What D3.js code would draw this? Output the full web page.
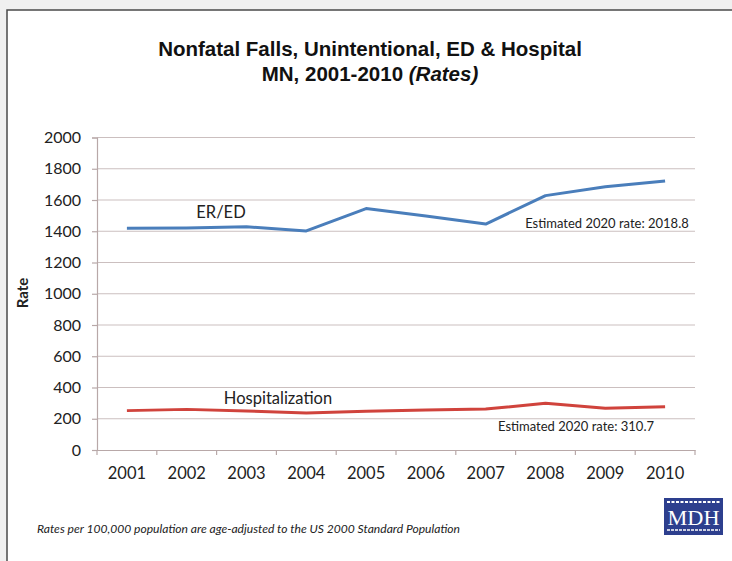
<!DOCTYPE html>
<html>
<head>
<meta charset="utf-8">
<script src="https://cdn.jsdelivr.net/npm/d3@7"></script>
<style>
html,body{margin:0;padding:0;background:#f2f2f2;}
svg{display:block;}
</style>
</head>
<body>
<svg id="chart" width="732" height="561"></svg>
<script>
const years = ["2001","2002","2003","2004","2005","2006","2007","2008","2009","2010"];
const erValues = [1419, 1421, 1429, 1402, 1545, 1498, 1446, 1628, 1685, 1722];
const hospValues = [252, 260, 250, 237, 248, 256, 262, 299, 267, 277];
const yTicks = [0, 200, 400, 600, 800, 1000, 1200, 1400, 1600, 1800, 2000];
const titleLines = ["Nonfatal Falls, Unintentional, ED & Hospital", "MN, 2001-2010 "];
const titleItalic = "(Rates)";
const seriesNames = ["ER/ED", "Hospitalization"];
const estimateNotes = ["Estimated 2020 rate: 2018.8", "Estimated 2020 rate: 310.7"];
const footnote = "Rates per 100,000 population are age-adjusted to the US 2000 Standard Population";

const svg = d3.select("#chart");
const labelFont = "Lato, 'Open Sans', sans-serif";

// frame
svg.append("rect").attr("x", 0).attr("y", 0).attr("width", 732).attr("height", 561).attr("fill", "#f0f0f0");
svg.append("rect").attr("x", 7).attr("y", 10).attr("width", 820).attr("height", 620)
  .attr("fill", "#ffffff").attr("stroke", "#4a4a4a").attr("stroke-width", 1.5);

const pLeft = 97, pRight = 695, pTop = 137.5, pBottom = 450;
const x = d3.scaleBand().domain(years).range([pLeft, pRight]);
const y = d3.scaleLinear().domain([0, 2000]).range([pBottom, pTop]);

// gridlines
svg.append("g").selectAll("line").data(yTicks.filter(d => d > 0)).join("line")
  .attr("x1", pLeft).attr("x2", pRight)
  .attr("y1", d => y(d)).attr("y2", d => y(d))
  .attr("stroke", "#cbbfbf").attr("stroke-width", 1.2);

// y axis
const yAxis = svg.append("g").attr("transform", `translate(${pLeft},0)`)
  .call(d3.axisLeft(y).tickValues(yTicks).tickFormat(d3.format("d")).tickSize(5).tickPadding(11));
yAxis.select(".domain").attr("stroke", "#b8a8a8").attr("stroke-width", 1.2);
yAxis.selectAll(".tick line").attr("stroke", "#b8a8a8").attr("stroke-width", 1.2);
yAxis.selectAll("text").attr("font-family", labelFont).attr("font-size", 16).attr("fill", "#222");

// x axis
const xAxis = svg.append("g").attr("transform", `translate(0,${pBottom})`)
  .call(d3.axisBottom(x).tickSize(0).tickPadding(17));
xAxis.select(".domain").attr("stroke", "#b8a8a8").attr("stroke-width", 1.2);
xAxis.selectAll("text").attr("font-family", labelFont).attr("font-size", 16.5).attr("fill", "#222");
// boundary ticks
const bounds = years.map(d => x(d)).concat([x(years[years.length - 1]) + x.bandwidth()]);
svg.append("g").selectAll("line").data(bounds).join("line")
  .attr("x1", d => d).attr("x2", d => d).attr("y1", pBottom).attr("y2", pBottom + 5)
  .attr("stroke", "#b8a8a8").attr("stroke-width", 1.2);

// lines
const line = d3.line().x((d, i) => x(years[i]) + x.bandwidth() / 2).y(d => y(d));
svg.append("path").datum(erValues).attr("d", line).attr("fill", "none")
  .attr("stroke", "#4a7ebb").attr("stroke-width", 3).attr("stroke-linejoin", "round");
svg.append("path").datum(hospValues).attr("d", line).attr("fill", "none")
  .attr("stroke", "#d0433c").attr("stroke-width", 3).attr("stroke-linejoin", "round");

// series labels
svg.append("text").attr("x", 221).attr("y", 218).attr("text-anchor", "middle")
  .attr("font-family", labelFont).attr("font-size", 16.5).attr("fill", "#222").text(seriesNames[0]);
svg.append("text").attr("x", 278).attr("y", 404).attr("text-anchor", "middle")
  .attr("font-family", labelFont).attr("font-size", 16.5).attr("fill", "#222").text(seriesNames[1]);
svg.append("text").attr("x", 607).attr("y", 228).attr("text-anchor", "middle")
  .attr("font-family", labelFont).attr("font-size", 13).attr("fill", "#222").text(estimateNotes[0]);
svg.append("text").attr("x", 576).attr("y", 431).attr("text-anchor", "middle")
  .attr("font-family", labelFont).attr("font-size", 13).attr("fill", "#222").text(estimateNotes[1]);

// title
svg.append("text").attr("x", 370).attr("y", 56).attr("text-anchor", "middle")
  .attr("font-family", "'Liberation Sans', Arial, sans-serif").attr("font-weight", "bold")
  .attr("font-size", 20.5).attr("fill", "#111").text(titleLines[0]);
const t2 = svg.append("text").attr("x", 370).attr("y", 81).attr("text-anchor", "middle")
  .attr("font-family", "'Liberation Sans', Arial, sans-serif").attr("font-weight", "bold")
  .attr("font-size", 20.5).attr("fill", "#111");
t2.append("tspan").text(titleLines[1]);
t2.append("tspan").attr("font-style", "italic").text(titleItalic);

// y axis title
svg.append("text").attr("transform", "translate(28,293) rotate(-90)").attr("text-anchor", "middle")
  .attr("font-family", labelFont).attr("font-weight", "bold").attr("font-size", 15).attr("fill", "#222").text("Rate");

// footnote
svg.append("text").attr("x", 37).attr("y", 533)
  .attr("font-family", labelFont).attr("font-style", "italic").attr("font-size", 11.5).attr("fill", "#222")
  .attr("textLength", 423).attr("lengthAdjust", "spacingAndGlyphs").text(footnote);

// MDH logo
const logo = svg.append("g").attr("transform", "translate(664,498)");
logo.append("rect").attr("width", 59).attr("height", 37).attr("fill", "#2d3f8e");
logo.append("line").attr("x1", 3).attr("x2", 56).attr("y1", 4).attr("y2", 4)
  .attr("stroke", "#ffffff").attr("stroke-width", 2).attr("stroke-dasharray", "3,1.5");
logo.append("line").attr("x1", 3).attr("x2", 56).attr("y1", 32).attr("y2", 32)
  .attr("stroke", "#ffffff").attr("stroke-width", 1.5).attr("stroke-dasharray", "3,1");
logo.append("text").attr("x", 29.5).attr("y", 27).attr("text-anchor", "middle")
  .attr("font-family", "'Liberation Serif', 'DejaVu Serif', serif").attr("font-size", 22)
  .attr("fill", "#ffffff").attr("textLength", 52).attr("lengthAdjust", "spacingAndGlyphs").text("MDH");
</script>
</body>
</html>
